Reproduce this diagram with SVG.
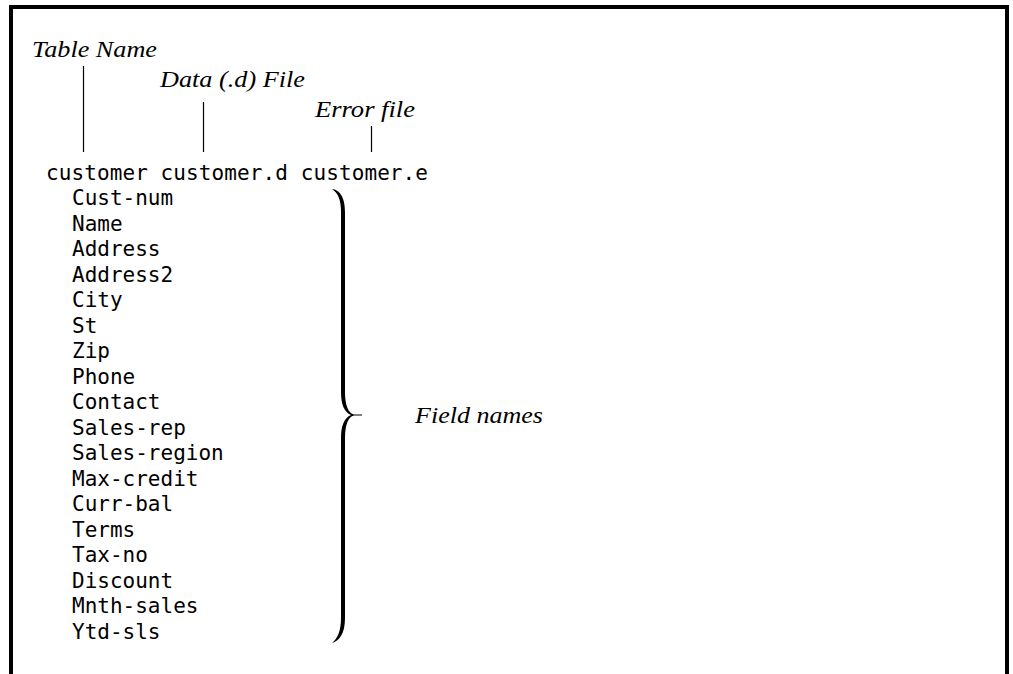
<svg xmlns="http://www.w3.org/2000/svg" width="1013" height="674" viewBox="0 0 1013 674">
  <style>
    .frame { fill: none; stroke: #000; stroke-width: 4; }
    .label { font-family: "Liberation Serif", "Times New Roman", serif; font-style: italic; font-size: 24px; fill: #000; }
    .mono { font-family: "DejaVu Sans Mono", "Liberation Mono", monospace; font-size: 21px; fill: #000; stroke: #fff; stroke-width: 0.35; paint-order: stroke; }
    .lead { stroke: #000; stroke-width: 1.2; fill: none; }
  </style>

  <!-- outer frame, open at the bottom -->
  <path class="frame" d="M11,674 V7 H1007 V674"/>

  <!-- callout labels -->
  <g id="label-table-name">
    <text class="label" x="32" y="57" textLength="125" lengthAdjust="spacingAndGlyphs">Table Name</text>
  </g>
  <g id="label-data-file">
    <text class="label" x="160" y="87" textLength="145" lengthAdjust="spacingAndGlyphs">Data (.d) File</text>
  </g>
  <g id="label-error-file">
    <text class="label" x="315" y="117" textLength="100" lengthAdjust="spacingAndGlyphs">Error file</text>
  </g>
  <g id="label-field-names">
    <text class="label" x="415" y="423" textLength="128" lengthAdjust="spacingAndGlyphs">Field names</text>
  </g>

  <!-- leader lines -->
  <g id="connectors">
    <line class="lead" x1="83.5" y1="66" x2="83.5" y2="152"/>
    <line class="lead" x1="203.5" y1="102" x2="203.5" y2="152"/>
    <line class="lead" x1="371.5" y1="126" x2="371.5" y2="152"/>
    <!-- brace grouping the field list -->
    <path fill="#000" d="M332,189 C339,190 345,196 345,212 L345,392 C345,405 348,413 354,414.5 L362,414.5 L362,415.5 L354,415.5 C348,417 345,425 345,438 L345,618 C345,634 339,641 332,643 C338,638 341,630 341,618 L341,438 C341,426 344,418 351,415 C344,412 341,404 341,392 L341,212 C341,200 338,193 332,189 Z"/>
  </g>

  <!-- table definition -->
  <g id="table-header">
    <text class="mono" x="46" y="180" textLength="382" lengthAdjust="spacing" xml:space="preserve">customer customer.d customer.e</text>
  </g>
  <g id="field-list" class="mono">
    <text x="72" y="205">Cust-num</text>
    <text x="72" y="230.5">Name</text>
    <text x="72" y="256">Address</text>
    <text x="72" y="281.5">Address2</text>
    <text x="72" y="307">City</text>
    <text x="72" y="332.5">St</text>
    <text x="72" y="358">Zip</text>
    <text x="72" y="383.5">Phone</text>
    <text x="72" y="409">Contact</text>
    <text x="72" y="434.5">Sales-rep</text>
    <text x="72" y="460">Sales-region</text>
    <text x="72" y="485.5">Max-credit</text>
    <text x="72" y="511">Curr-bal</text>
    <text x="72" y="536.5">Terms</text>
    <text x="72" y="562">Tax-no</text>
    <text x="72" y="587.5">Discount</text>
    <text x="72" y="613">Mnth-sales</text>
    <text x="72" y="638.5">Ytd-sls</text>
  </g>
</svg>
